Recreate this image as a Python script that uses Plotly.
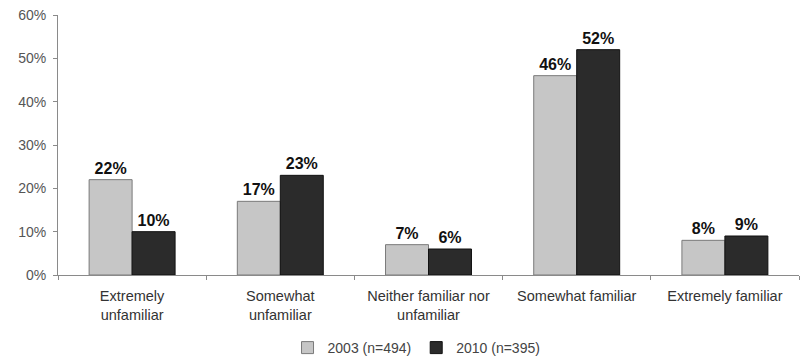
import plotly.graph_objects as go

categories = ["Extremely<br>unfamiliar", "Somewhat<br>unfamiliar", "Neither familiar nor<br>unfamiliar",
              "Somewhat familiar", "Extremely familiar"]
series_2003 = [22, 17, 7, 46, 8]
series_2010 = [10, 23, 6, 52, 9]
name_2003 = "2003 (n=494)"
name_2010 = "2010 (n=395)"
y_ticks = [0, 10, 20, 30, 40, 50, 60]
y_tick_labels = [f"{v}%" for v in y_ticks]

label_font = dict(family="Liberation Sans, Arial", size=16, color="#111111", weight="bold")

fig = go.Figure()
fig.add_trace(go.Bar(
    x=categories, y=series_2003, name=name_2003,
    marker=dict(color="#c6c6c6", line=dict(color="#7a7a7a", width=1)),
    text=[f"{v}%" for v in series_2003], textposition="outside",
    textfont=label_font, cliponaxis=False,
))
fig.add_trace(go.Bar(
    x=categories, y=series_2010, name=name_2010,
    marker=dict(color="#2b2b2b", line=dict(color="#111111", width=1)),
    text=[f"{v}%" for v in series_2010], textposition="outside",
    textfont=label_font, cliponaxis=False,
))

fig.update_layout(
    width=801, height=364,
    margin=dict(l=58, r=2, t=15, b=89, autoexpand=False),
    paper_bgcolor="white", plot_bgcolor="white",
    barmode="group", bargap=0.42, bargroupgap=0.0,
    font=dict(family="Liberation Sans, Arial", size=14, color="#444444"),
    showlegend=True,
    legend=dict(orientation="h", x=0.52, xref="container", xanchor="center",
                y=-0.005, yref="container", yanchor="bottom",
                font=dict(size=14, color="#444444"), itemwidth=30, traceorder="normal"),
    xaxis=dict(showline=True, linecolor="#8a8a8a", linewidth=1, ticks="outside",
               tickson="boundaries", ticklen=4, tickcolor="#8a8a8a", showgrid=False,
               automargin=False, ticklabelstandoff=8, tickfont=dict(size=14.5, color="#333333")),
    yaxis=dict(range=[0, 60], tickvals=y_ticks, ticktext=y_tick_labels, showline=True,
               linecolor="#8a8a8a", linewidth=1, ticks="outside", ticklen=4,
               tickcolor="#8a8a8a", showgrid=False, zeroline=False, automargin=False,
               ticklabelstandoff=4, tickfont=dict(size=14, color="#555555")),
)

fig.write_html("out.html")
